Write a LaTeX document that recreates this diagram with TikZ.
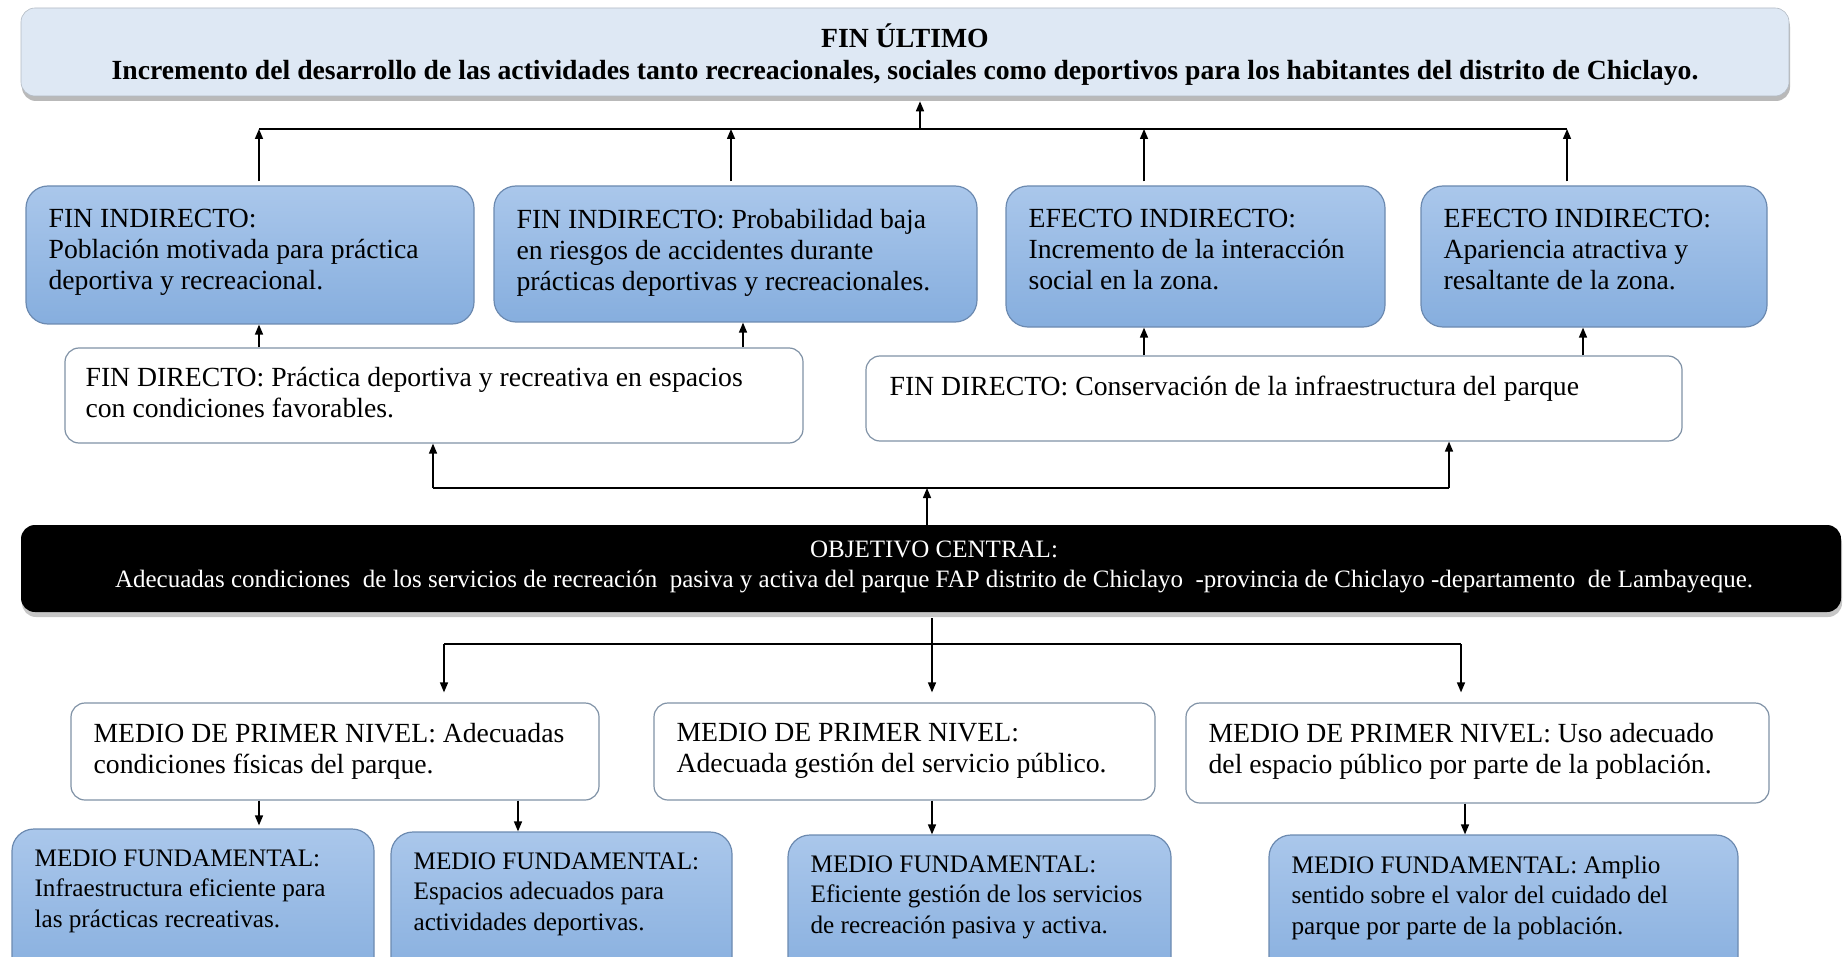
\documentclass[tikz,border=0pt]{standalone}
\usepackage{fontspec}
\setmainfont{Liberation Serif}
\usetikzlibrary{arrows.meta,fit,shadows}

\definecolor{toplight}{RGB}{222,232,244}
\definecolor{blueup}{RGB}{170,199,235}
\definecolor{bluedown}{RGB}{134,174,222}
\definecolor{blueedge}{RGB}{108,138,176}
\definecolor{greyedge}{RGB}{128,146,166}
\newcommand\fs{\fontsize{27.7}{30.6}\selectfont}
\newcommand\fsm{\fontsize{25.2}{30.6}\selectfont}
\newcommand\fso{\fontsize{25}{30.6}\selectfont}

\tikzset{
  fin/.style={draw=blueedge, line width=1.2pt, rounded corners=22pt, top color=blueup, bottom color=bluedown, inner sep=0pt},
  plain/.style={draw=greyedge, line width=1.2pt, rounded corners=14pt, fill=white, inner sep=0pt},
  txt/.style={anchor=north west, inner sep=0pt, align=left, font=\fs},
  bus/.style={line width=1.5pt},
  arr/.style={line width=1.5pt, -{Triangle[length=10pt,width=8pt]}},
}

\begin{document}
\begin{tikzpicture}[x=1pt, y=-1pt]
\useasboundingbox (0,0) rectangle (1843,957);

% fin ultimo
\node[fit={(21,8)(1789,96)}, draw=toplight!80!black, line width=0.6pt, fill=toplight, rounded corners=14pt, inner sep=0pt,
  drop shadow={shadow xshift=1pt, shadow yshift=-5pt, opacity=0.55}] (ult) {};
\node[font=\bfseries\fontsize{27.7}{32}\selectfont, align=center, inner sep=0pt] (ultt) at (905,55) {FIN ÚLTIMO\\
Incremento del desarrollo de las actividades tanto recreacionales, sociales como deportivos para los habitantes del distrito de Chiclayo.};

% fines indirectos
\node[fin, fit={(26,186)(474,324)}] (fi1) {};
\node[fin, fit={(494,186)(977,322)}] (fi2) {};
\node[fin, fit={(1006,186)(1385,327)}] (fi3) {};
\node[fin, fit={(1421,186)(1767,327)}] (fi4) {};
\node[txt] (fi1t) at ([shift={(23,24)}]fi1.north west) {FIN INDIRECTO:\\Población motivada para práctica\\deportiva y recreacional.};
\node[txt] (fi2t) at ([shift={(23,24)}]fi2.north west) {FIN INDIRECTO: Probabilidad baja\\en riesgos de accidentes durante\\prácticas deportivas y recreacionales.};
\node[txt] (fi3t) at ([shift={(23,24)}]fi3.north west) {EFECTO INDIRECTO:\\Incremento de la interacción\\social en la zona.};
\node[txt] (fi4t) at ([shift={(23,24)}]fi4.north west) {EFECTO INDIRECTO:\\Apariencia atractiva y\\resaltante de la zona.};

% fines directos
\node[plain, fit={(65,348)(803,443)}] (fd1) {};
\node[plain, fit={(866,356)(1682,441)}] (fd2) {};
\node[txt] (fd1t) at ([shift={(21,20)}]fd1.north west) {FIN DIRECTO: Práctica deportiva y recreativa en espacios\\con condiciones favorables.};
\node[txt] (fd2t) at ([shift={(24,20)}]fd2.north west) {FIN DIRECTO: Conservación de la infraestructura del parque};

% objetivo central
\node[fit={(21,525)(1841,612)}, fill=black, rounded corners=14pt, inner sep=0pt,
  drop shadow={shadow xshift=1pt, shadow yshift=-5pt, opacity=0.45}] (obj) {};
\node[font=\fso, text=white, align=center, inner sep=0pt] (objt) at (934,567) {OBJETIVO CENTRAL:\\
Adecuadas condiciones\ \ de los servicios de recreación\ \ pasiva y activa del parque FAP distrito de Chiclayo\ \ -provincia de Chiclayo -departamento\ \ de Lambayeque.};

% medios de primer nivel
\node[plain, fit={(71,703)(599,800)}] (mp1) {};
\node[plain, fit={(654,703)(1155,800)}] (mp2) {};
\node[plain, fit={(1186,703)(1769,803)}] (mp3) {};
\node[txt] (mp1t) at ([shift={(23,21)}]mp1.north west) {MEDIO DE PRIMER NIVEL: Adecuadas\\condiciones físicas del parque.};
\node[txt] (mp2t) at ([shift={(23,21)}]mp2.north west) {MEDIO DE PRIMER NIVEL:\\Adecuada gestión del servicio público.};
\node[txt] (mp3t) at ([shift={(23,21)}]mp3.north west) {MEDIO DE PRIMER NIVEL: Uso adecuado\\del espacio público por parte de la población.};

% medios fundamentales
\node[fin, fit={(12,829)(374,985)}] (mf1) {};
\node[fin, fit={(391,832)(732,985)}] (mf2) {};
\node[fin, fit={(788,835)(1171,985)}] (mf3) {};
\node[fin, fit={(1269,835)(1738,985)}] (mf4) {};
\node[txt, font=\fsm] (mf1t) at ([shift={(23,21)}]mf1.north west) {MEDIO FUNDAMENTAL:\\Infraestructura eficiente para\\las prácticas recreativas.};
\node[txt, font=\fsm] (mf2t) at ([shift={(23,21)}]mf2.north west) {MEDIO FUNDAMENTAL:\\Espacios adecuados para\\actividades deportivas.};
\node[txt, font=\fsm] (mf3t) at ([shift={(23,21)}]mf3.north west) {MEDIO FUNDAMENTAL:\\Eficiente gestión de los servicios\\de recreación pasiva y activa.};
\node[txt, font=\fsm] (mf4t) at ([shift={(23,21)}]mf4.north west) {MEDIO FUNDAMENTAL: Amplio\\sentido sobre el valor del cuidado del\\parque por parte de la población.};

% conectores arriba
\coordinate (t0) at (920,129);
\coordinate (t1) at (259,129);
\coordinate (t2) at (731,129);
\coordinate (t3) at (1144,129);
\coordinate (t4) at (1567,129);
\coordinate (m2) at (743,0);
\coordinate (m4) at (1583,0);
\draw[bus] (t1) -- (t4);
\draw[arr, shorten >=5pt] (t0) -- (t0 |- ult.south);
\draw[arr] ([yshift=4pt]fi1.north -| t1) -- (t1);
\draw[arr] ([yshift=4pt]fi2.north -| t2) -- (t2);
\draw[arr] ([yshift=4pt]fi3.north -| t3) -- (t3);
\draw[arr] ([yshift=4pt]fi4.north -| t4) -- (t4);
\draw[arr] (fd1.north -| t1) -- (fi1.south -| t1);
\draw[arr] (fd1.north -| m2) -- (fi2.south -| m2);
\draw[arr] (fd2.north -| t3) -- (fi3.south -| t3);
\draw[arr] (fd2.north -| m4) -- (fi4.south -| m4);

% conectores centro
\coordinate (b0) at (927,488);
\coordinate (b1) at (433,488);
\coordinate (b2) at (1449,488);
\draw[bus] (b1) -- (b2);
\draw[arr] (obj.north -| b0) -- (b0);
\draw[arr] (b1) -- (b1 |- fd1.south);
\draw[arr] (b2) -- (b2 |- fd2.south);

% conectores abajo
\coordinate (d0) at (932,644);
\coordinate (d1) at (444,644);
\coordinate (d2) at (1461,644);
\coordinate (e2) at (518,0);
\coordinate (e4) at (1465,0);
\draw[bus] (d1) -- (d2);
\draw[bus] ([yshift=-6pt]obj.south -| d0) -- (d0);
\draw[arr, shorten >=10pt] (d1) -- (d1 |- mp1.north);
\draw[arr, shorten >=10pt] (d0) -- (d0 |- mp2.north);
\draw[arr, shorten >=10pt] (d2) -- (d2 |- mp3.north);
\draw[arr, shorten >=3pt] (mp1.south -| t1) -- (mf1.north -| t1);
\draw[arr] (mp1.south -| e2) -- (mf2.north -| e2);
\draw[arr] (mp2.south -| d0) -- (mf3.north -| d0);
\draw[arr] (mp3.south -| e4) -- (mf4.north -| e4);
\end{tikzpicture}
\end{document}
